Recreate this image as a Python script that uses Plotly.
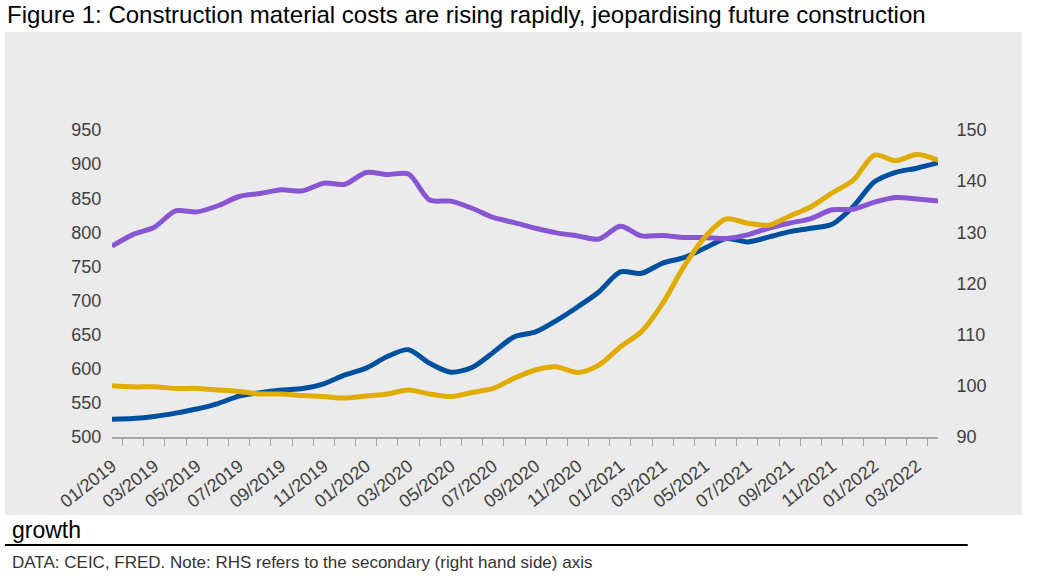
import plotly.graph_objects as go

# monthly labels, 01/2019 .. 04/2022
months = [f"{m:02d}/{y}" for y in (2019, 2020, 2021, 2022) for m in range(1, 13)][:40]

# left axis series (blue)
blue_vals = [526, 527, 530, 535, 541, 549, 560, 565, 569, 571,
             578, 591, 601, 618, 628, 608, 595, 602, 624, 647,
             654, 671, 691, 713, 742, 740, 755, 763, 777, 791,
             786, 793, 801, 806, 812, 838, 874, 888, 894, 902]

# right axis series (yellow, purple)
yellow_vals = [100.0, 99.8, 99.8, 99.5, 99.5, 99.2, 98.9, 98.4, 98.4, 98.1,
               97.9, 97.6, 98.0, 98.4, 99.2, 98.4, 97.9, 98.7, 99.5, 101.5,
               103.1, 103.7, 102.6, 104.1, 107.6, 110.6, 116.1, 123.3, 129.1, 132.6,
               131.8, 131.4, 133.2, 135.0, 137.7, 140.2, 145.1, 144.0, 145.2, 144.1]
purple_vals = [127.3, 129.6, 131.0, 134.2, 134.0, 135.2, 137.0, 137.6, 138.3, 138.1,
               139.6, 139.4, 141.7, 141.3, 141.4, 136.3, 136.1, 134.7, 132.9, 131.9,
               130.8, 129.9, 129.3, 128.7, 131.2, 129.3, 129.4, 129.0, 129.0, 128.8,
               129.5, 130.8, 131.8, 132.7, 134.4, 134.5, 135.9, 136.8, 136.5, 136.1]

tick_text = [m if i % 2 == 0 else "" for i, m in enumerate(months)]

BLUE = "#0050A0"
YELLOW = "#E0AC00"
PURPLE = "#8856D2"
TICK_COLOR = "#404040"
FONT = "Liberation Sans, Arial, sans-serif"

fig = go.Figure()
fig.add_trace(go.Scatter(x=months, y=purple_vals, yaxis="y2", mode="lines",
                         line=dict(color=PURPLE, width=5, shape="spline", smoothing=0.8)))
fig.add_trace(go.Scatter(x=months, y=yellow_vals, yaxis="y2", mode="lines",
                         line=dict(color=YELLOW, width=5, shape="spline", smoothing=0.8)))
fig.add_trace(go.Scatter(x=months, y=blue_vals, mode="lines",
                         line=dict(color=BLUE, width=5, shape="spline", smoothing=0.8)))

# grey panel behind the chart
fig.add_shape(type="rect", xref="paper", yref="paper", x0=-0.1295, x1=1.1017,
              y0=-0.254, y1=1.319, fillcolor="#EBEBEB", line_width=0, layer="below")
# rule under the caption
fig.add_shape(type="line", xref="paper", yref="paper", x0=-0.1295, x1=1.036,
              y0=-0.3518, y1=-0.3518, line=dict(color="black", width=2))

fig.add_annotation(text="Figure 1: Construction material costs are rising rapidly, jeopardising future construction",
                   xref="paper", yref="paper", x=-0.1295, y=1.3746, xanchor="left", yanchor="middle",
                   showarrow=False, font=dict(family=FONT, size=24, color="black"))
fig.add_annotation(text="growth", xref="paper", yref="paper", x=-0.124, y=-0.303,
                   xanchor="left", yanchor="middle", showarrow=False,
                   font=dict(family=FONT, size=23, color="black"))
fig.add_annotation(text="DATA: CEIC, FRED. Note: RHS refers to the secondary (right hand side) axis",
                   xref="paper", yref="paper", x=-0.124, y=-0.41, xanchor="left", yanchor="middle",
                   showarrow=False, font=dict(family=FONT, size=17, color="#333333"))

fig.update_layout(
    width=1038, height=587,
    margin=dict(l=112, r=100, t=130, b=150),
    paper_bgcolor="white",
    plot_bgcolor="rgba(0,0,0,0)",
    showlegend=False,
    font=dict(family=FONT, color=TICK_COLOR),
    xaxis=dict(type="category", tickmode="array", tickvals=months, ticktext=tick_text,
               tickson="boundaries", ticks="outside", ticklen=7, tickcolor="#A6A6A6",
               showline=True, linecolor="#A6A6A6", linewidth=1.5, showgrid=False,
               tickangle=-38, ticklabelstandoff=10,
               tickfont=dict(size=18, color=TICK_COLOR), zeroline=False),
    yaxis=dict(range=[500, 950], dtick=50, showgrid=False, zeroline=False,
               ticks="outside", ticklen=6, tickcolor="rgba(0,0,0,0)",
               tickfont=dict(size=18, color=TICK_COLOR)),
    yaxis2=dict(range=[90, 150], dtick=10, overlaying="y", side="right", showgrid=False,
                zeroline=False, ticks="outside", ticklen=14, tickcolor="rgba(0,0,0,0)",
                tickfont=dict(size=18, color=TICK_COLOR)),
)

# drop the page's default body margin so the figure sits at the window corner
fig.write_html("out.html", config={"displayModeBar": False},
               post_script="document.body.style.margin = '0px';")
